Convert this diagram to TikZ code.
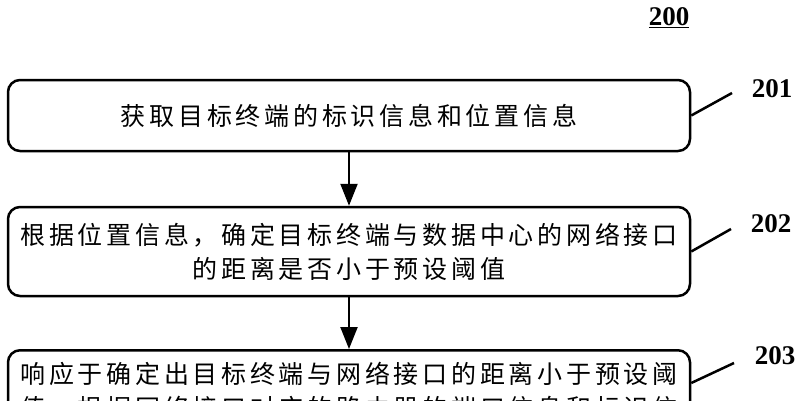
\documentclass[tikz,border=0pt]{standalone}
\usepackage{fontspec}
\newfontfamily\cjk[LetterSpace=15]{Noto Sans CJK SC}
\newfontfamily\numfont{Liberation Serif}
\usetikzlibrary{arrows.meta}

\begin{document}
\begin{tikzpicture}
[x=1pt, y=1pt, every node/.style={inner sep=0pt},
 stepbox/.style={rectangle, rounded corners=12pt, line width=2.5pt, draw=black, minimum width=682pt, align=center, font=\cjk\fontsize{25pt}{34pt}\selectfont},
 numlabel/.style={font=\numfont\bfseries\fontsize{27pt}{27pt}\selectfont},
 flow/.style={line width=2.2pt, -{Triangle[length=22pt, width=17pt]}},
 leader/.style={line width=2.5pt}]
\path [use as bounding box, clip] (0,0) rectangle (801,-400);
\node (fig) [numlabel] at (669, -18) {\underline{200}};
\node (s1) [stepbox, minimum height=71pt] at (349, -115.5) {获取目标终端的标识信息和位置信息};
\node (s2) [stepbox, minimum height=89pt] at (349, -251.5) {根据位置信息，确定目标终端与数据中心的网络接口\\的距离是否小于预设阈值};
\node (s3) [stepbox, minimum height=82pt, anchor=north] at (349, -349) {响应于确定出目标终端与网络接口的距离小于预设阈\\值，根据网络接口对应的路由器的端口信息和标识信};
\node (n1) [numlabel] at (772, -89) {201};
\node (n2) [numlabel] at (771, -224) {202};
\node (n3) [numlabel] at (775, -356) {203};
\coordinate (t1) at (732, -93);
\coordinate (t2) at (731, -229);
\coordinate (t3) at (734, -363);
\draw [flow] (s1) -- (s2);
\draw [flow] (s2) -- (s3);
\draw [leader] (s1.east) -- (t1);
\draw [leader] (s2.east) -- (t2);
\draw [leader] ([yshift=-34pt]s3.north east) -- (t3);
\end{tikzpicture}
\end{document}
